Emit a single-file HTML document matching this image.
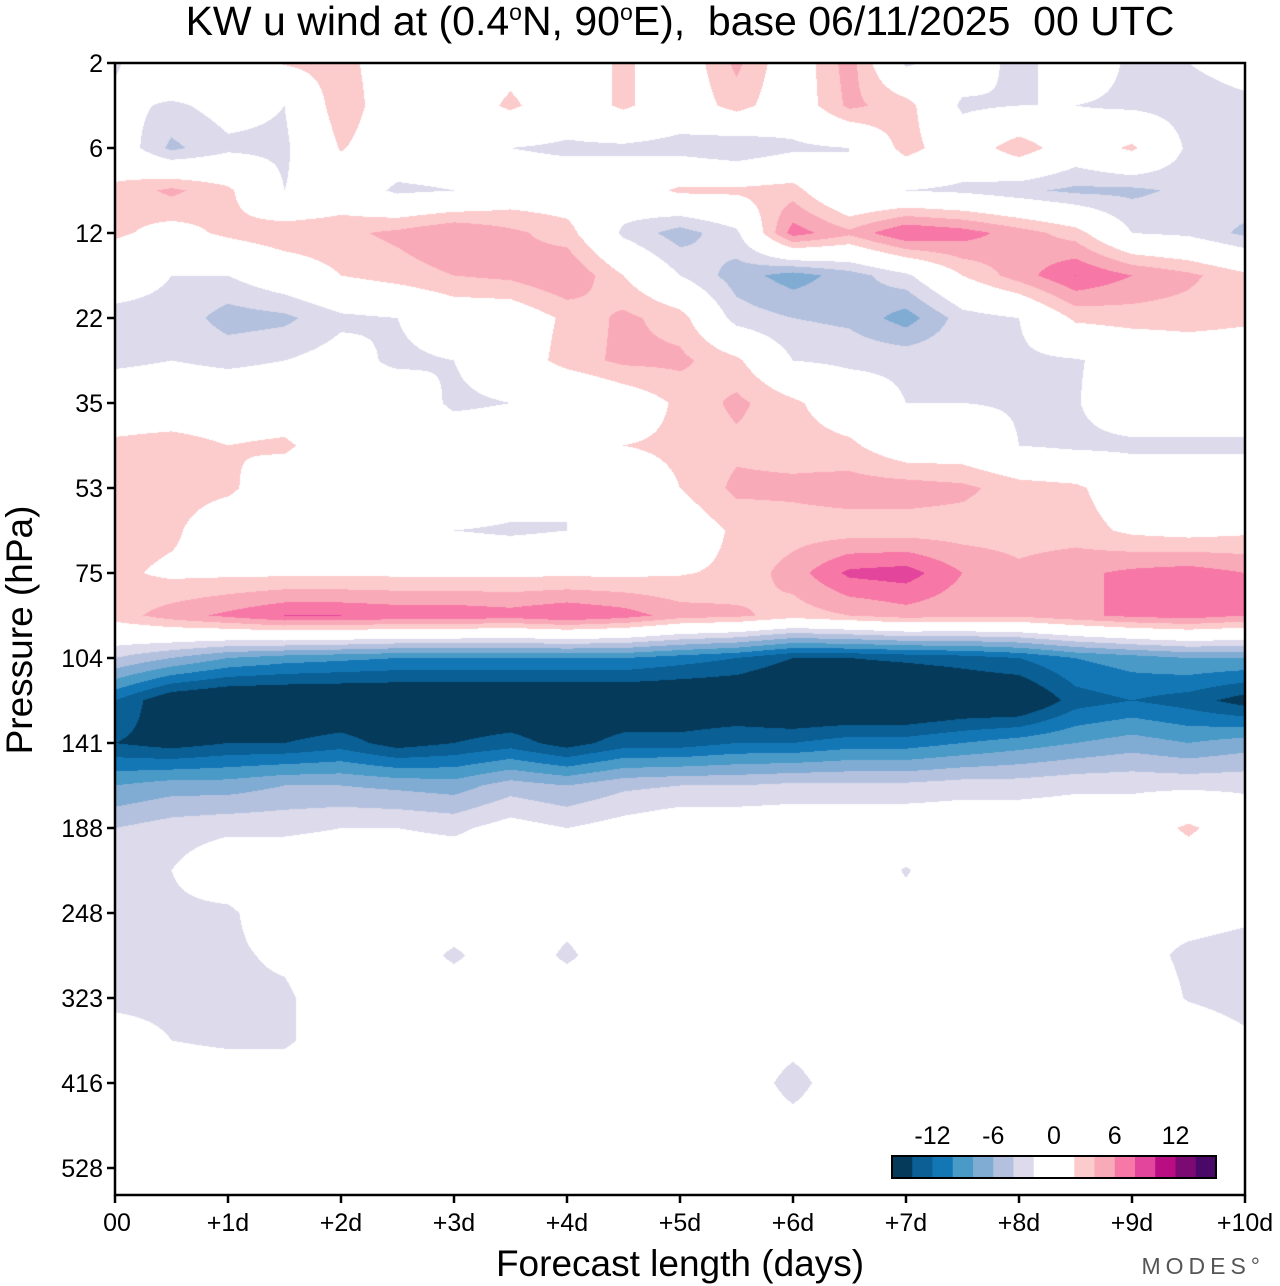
<!DOCTYPE html>
<html><head><meta charset="utf-8">
<style>
body{margin:0;background:#fff;width:1280px;height:1286px;overflow:hidden;position:relative;font-family:"Liberation Sans",sans-serif;}
#plot{position:absolute;left:115px;top:63px;}
svg{position:absolute;left:0;top:0;}
</style></head>
<body>
<canvas id="plot" width="1130" height="1132"></canvas>
<svg id="ov" width="1280" height="1286"></svg>
<script>
// forecast times (days), half-day steps
const days=[0,0.5,1,1.5,2,2.5,3,3.5,4,4.5,5,5.5,6,6.5,7,7.5,8,8.5,9,9.5,10];
// pressure tick labels (hPa), one per tick row
const pLabels=["2","6","12","22","35","53","75","104","141","188","248","323","416","528"];
const xLabels=["00","+1d","+2d","+3d","+4d","+5d","+6d","+7d","+8d","+9d","+10d"];
const cbLevels=[-14,-12,-10,-8,-6,-4,-2,2,4,6,8,10,12,14];
const cbLabels=["-12","-6","0","6","12"];
const cbLabelVals=[-12,-6,0,6,12];
// u wind values, rows = half-tick pressure rows from 2 hPa downward
const uwind=[
[-2.5,2,0,2.2,3,0,0,1,0,2.5,0,4.5,0,5,-2.5,0,-3,0,-2.5,-2,-1],
[-1,-2.5,-1,-2,3.5,0,0,2.5,0,2.5,0,3,0,4.5,3,-2.5,-2,-2,-2.5,-3,-2.5],
[0,-4.5,-2.5,-2.5,2.2,0,0,-2,-2.5,-2.5,-3,-4,-2.5,-2,3,0,3.5,0,2.5,-2.5,-2.5],
[2.5,4.5,2.5,-2,0,-2.5,-2,0,0,0,2.5,2.5,3,-2,-2,-2.5,-3.5,-4.5,-4.5,-3.5,-2.5],
[2.5,1,2.5,3.5,3.5,4.5,6,4.5,3,-2.5,-5,-2.5,7,4.5,8,7,5,3,-2,-2.5,-4.5],
[-1,-2,-2,0,2,3,4,4.5,6,2,-2,-5,-7,-5,-2.5,2,5,8,6,4.5,2.5],
[-2.5,-2.5,-5,-4.5,-2.5,-2,0,0,2.5,4.5,3,-3,-4,-4.5,-7,-3,-2,2.5,3,3,2.5],
[-2.5,-2,-2.5,-2,-1,-2.5,-2,0,3,4.5,4.5,2.5,-2,-2.5,-2.5,-2.5,-2.5,-2.2,-1,0,0],
[0,0,0,0,-2,0,-2.5,-2,-2,0,2.5,4.5,2.5,0,-2,-2,-2.2,-2.2,0,0,0],
[2.5,3,2,2.5,0,0,0,0,0,2,2.5,3.5,3,2.5,0,0,-2,-2.5,-2.5,-2.5,-2.5],
[3,3,2.5,0,0,0,2,0,-2,0,2,4.5,4.5,5,5,4.5,3,2.5,0,0,0],
[3,2.5,0,0,0,-1,-2,-2.5,-2,-2,0,2.5,3,3,3,3,3,3,1.5,1,1.5],
[2.5,1.5,1.5,1.5,1.5,1.5,1.5,1.5,1.5,1.5,1.8,2.5,5,8.5,9,6,4.5,5.5,6.5,7,6],
[3,5,6.5,8,8,7.5,7.5,7,8,7,5,4.5,3,4,5,4.5,4.5,5.5,6.5,7,6],
[-4,-6,-8,-9,-9.5,-10,-10,-10,-10,-10,-11,-12,-14,-14,-13.5,-13,-12,-10,-9,-8,-8],
[-12,-16,-17,-17,-17,-17,-17,-17,-17,-17,-17,-17,-18,-18,-18,-17,-17,-13,-12,-13,-15],
[-14,-15,-14,-14,-13,-15,-14,-13,-15,-13,-13,-12,-12,-11,-11,-10,-9,-8,-7,-8,-7],
[-8,-7,-7,-6,-6,-6.5,-7,-5,-6,-4.5,-4,-4,-3.5,-3.5,-3.5,-3,-3,-2.5,-2.5,-2.5,-2.5],
[-4,-3,-2.5,-2.5,-2,-2,-2.5,-1,-2,-1,0,0,0,0,0,0,0,0,0,2.5,0],
[-2.5,-2,0,0,0,0,0,0,0,0,0,0,0,0,-2.2,0,0,0,0,0,0],
[-2.5,-2.5,-2.5,0,0,0,0,0,-1,0,0,0,0,0,-1,0,0,-1,-1.5,-1,-1.5],
[-2.5,-2.5,-2.5,-1.5,0,0,-2.5,0,-2.5,0,0,0,0,0,0,0,0,0,-1,-2.5,-3],
[-2.5,-2.5,-2.5,-2.5,0,0,0,0,0,0,0,0,0,0,0,0,0,0,0,-2.2,-3],
[-1,-2,-2.5,-2.5,0,0,0,0,0,0,0,0,-1,0,0,0,0,0,0,0,-1.5],
[0,0,0,0,0,0,0,0,0,0,0,0,-3,0,0,0,0,0,0,0,0],
[0,0,0,0,0,0,0,0,0,0,0,0,-1,0,0,0,0,0,0,0,0],
[0,0,0,0,0,0,0,0,0,0,0,0,0,0,0,0,0,0,0,0,0]
];
const colors=["#053a5a","#0a5f94","#1377b6","#4a9ac8","#80acd3","#b3c1de","#dcdaeb","#ffffff","#fccbcc","#f9aab8","#f778a6","#e3449c","#b80e82","#7b0a73","#4a0868"];

const X0=115,X1=1245,Y0=63,Y1=1195,W=X1-X0,H=Y1-Y0;
const rowStep=42.5;
function xScale(d){return X0+d/10*W;}
function yRow(r){return Y0+r*rowStep;}
function hex(c){return [parseInt(c.substr(1,2),16),parseInt(c.substr(3,2),16),parseInt(c.substr(5,2),16)];}
const rgb=colors.map(hex);
function idxFor(v){let i=0;while(i<cbLevels.length&&v>=cbLevels[i])i++;return i;}

const cv=document.getElementById('plot');const ctx=cv.getContext('2d');
const img=ctx.createImageData(W,H);
const nR=uwind.length,nC=days.length;
for(let py=0;py<H;py++){
  let fr=(py+0.5)/rowStep; if(fr>nR-1)fr=nR-1;
  const r0=Math.min(Math.floor(fr),nR-2),tr=fr-r0;
  for(let px=0;px<W;px++){
    const d=(px+0.5)/W*10;
    let fc=d/(days[1]-days[0]); const c0=Math.min(Math.floor(fc),nC-2),tc=fc-c0;
    const v=(uwind[r0][c0]*(1-tc)+uwind[r0][c0+1]*tc)*(1-tr)+(uwind[r0+1][c0]*(1-tc)+uwind[r0+1][c0+1]*tc)*tr;
    const k=rgb[idxFor(v)];const o=(py*W+px)*4;
    img.data[o]=k[0];img.data[o+1]=k[1];img.data[o+2]=k[2];img.data[o+3]=255;
  }
}
ctx.putImageData(img,0,0);

const NS="http://www.w3.org/2000/svg";const svg=document.getElementById('ov');
function mk(tag,attrs,txt){const e=document.createElementNS(NS,tag);for(const k in attrs)e.setAttribute(k,attrs[k]);if(txt!==undefined)e.textContent=txt;svg.appendChild(e);return e;}
let e;
e=mk('rect',{x:X0,y:Y0,width:W,height:H,fill:'none',stroke:'#000','stroke-width':2.5});


pLabels.forEach((l,i)=>{const y=yRow(i*2);
  e=mk('line',{x1:X0-8,x2:X0,y1:y,y2:y,stroke:'#000','stroke-width':2.5});
  
  
  e=mk('text',{x:X0-12,y:y+9,'text-anchor':'end','font-size':25},l);
  
  
});
xLabels.forEach((l,i)=>{const x=xScale(i);
  e=mk('line',{x1:x,x2:x,y1:Y1,y2:Y1+8,stroke:'#000','stroke-width':2.5});
  
  
  e=mk('text',{x:i==0?X0+2:x,y:1231,'text-anchor':'middle','font-size':25},l);
  
  
});
e=mk('text',{x:680,y:35,'text-anchor':'middle','font-size':41},'');
e.setAttribute('style','white-space:pre');
e.innerHTML='KW u wind at (0.4<tspan dy="-15" font-size="23">o</tspan><tspan dy="15">N, 90</tspan><tspan dy="-15" font-size="23">o</tspan><tspan dy="15">E),  base 06/11/2025  00 UTC</tspan>';


e=mk('text',{x:680,y:1276,'text-anchor':'middle','font-size':37},'Forecast length (days)');


e=mk('text',{x:0,y:0,'text-anchor':'middle','font-size':37,transform:'translate(32,630) rotate(-90)'},'Pressure (hPa)');


e=mk('text',{x:1265,y:1274,'text-anchor':'end','font-size':23,fill:'#555','letter-spacing':'5'},'MODES°');


const CB0=892,CB1=1216,cbW=(CB1-CB0)/(colors.length+1);
let cx=CB0;
colors.forEach((c,i)=>{
  const w=(i===7)?cbW*2:cbW;
  e=mk('rect',{x:cx,y:1156,width:w+0.5,height:22,fill:c});
  
  
  cx+=w;
});
e=mk('rect',{x:CB0,y:1156,width:CB1-CB0,height:22,fill:'none',stroke:'#000','stroke-width':2});


cbLabels.forEach((l,i)=>{const v=cbLabelVals[i];
  const x=v===0?CB0+cbW*8:(v<0?CB0+cbW*(7+(v+2)/2):CB0+cbW*(9+(v-2)/2));
  e=mk('text',{x:x,y:1144,'text-anchor':'middle','font-size':25},l);
  
  
});
</script>
</body></html>
